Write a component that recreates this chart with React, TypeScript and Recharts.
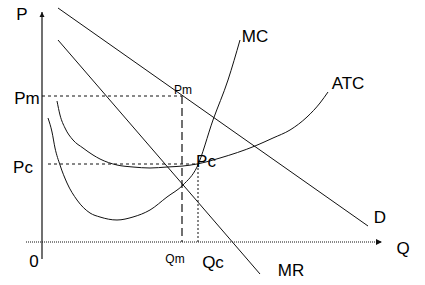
import React from "react";
import { LineChart, Line, XAxis, YAxis, ReferenceLine, ReferenceDot } from "recharts";

// Quantity (Q) / price (P) values
const mcCurve = [
  { q: 0.6, p: 12.4 }, { q: 1.0, p: 11.0 }, { q: 1.3, p: 9.4 }, { q: 1.8, p: 7.7 },
  { q: 2.5, p: 5.9 }, { q: 3.5, p: 4.2 }, { q: 4.8, p: 2.9 }, { q: 5.8, p: 2.5 },
  { q: 7.5, p: 2.2 }, { q: 9.1, p: 2.5 }, { q: 10.8, p: 3.2 }, { q: 12.5, p: 4.5 },
  { q: 14.1, p: 5.7 }, { q: 15.5, p: 7.5 }, { q: 17.1, p: 12.2 }, { q: 18.6, p: 16.2 },
  { q: 19.8, p: 20.2 },
];
const atcCurve = [
  { q: 1.5, p: 14.1 }, { q: 1.8, p: 12.7 }, { q: 2.3, p: 11.4 }, { q: 3.1, p: 10.2 },
  { q: 4.1, p: 9.4 }, { q: 5.1, p: 8.7 }, { q: 5.8, p: 8.3 }, { q: 7.5, p: 7.7 },
  { q: 9.1, p: 7.5 }, { q: 10.8, p: 7.4 }, { q: 12.5, p: 7.5 }, { q: 14.1, p: 7.6 },
  { q: 15.5, p: 7.8 }, { q: 17.8, p: 8.4 }, { q: 21.3, p: 9.6 }, { q: 23.1, p: 10.4 },
  { q: 24.8, p: 11.2 }, { q: 26.5, p: 12.5 }, { q: 27.8, p: 13.9 }, { q: 28.6, p: 15.0 },
];
const demandLine = [{ q: 1.6, p: 23.4 }, { q: 32.6, p: 1.6 }];
const mrLine = [{ q: 1.6, p: 20.2 }, { q: 21.8, p: -3.2 }];

const Pm = 14.6;
const Pc = 7.8;
const Qm = 14.0;
const Qc = 15.6;

const qAxisRange = [-1.6, 34.0];
const pAxisRange = [-1.7, 23.0];

const labels = [
  { text: "P", q: -2.0, p: 22.8, size: 17 },
  { text: "Pm", q: -1.5, p: 14.4, size: 17 },
  { text: "Pc", q: -1.9, p: 7.5, size: 17 },
  { text: "0", q: -0.8, p: -1.9, size: 17 },
  { text: "Qm", q: 13.3, p: -1.7, size: 12 },
  { text: "Qc", q: 17.1, p: -2.0, size: 17 },
  { text: "Q", q: 36.1, p: -0.6, size: 17 },
  { text: "MR", q: 24.9, p: -2.8, size: 17 },
  { text: "D", q: 33.8, p: 2.5, size: 17 },
  { text: "ATC", q: 30.6, p: 15.9, size: 17 },
  { text: "MC", q: 21.3, p: 20.6, size: 17 },
  { text: "Pm", q: 14.1, p: 15.2, size: 12 },
  { text: "Pc", q: 16.4, p: 8.1, size: 17 },
];

const FONT = "'Liberation Sans', Arial, sans-serif";
const INK = "#111";

const TextShape = (text: string, size: number) => (props: any) => (
  <text
    x={props.cx}
    y={props.cy}
    textAnchor="middle"
    dominantBaseline="central"
    fontFamily={FONT}
    fontSize={size}
    fill="#000"
  >
    {text}
  </text>
);

const ArrowRight = (props: any) => (
  <path d={`M${props.cx},${props.cy} l-6,-3 l0,6 z`} fill={INK} />
);
const ArrowUp = (props: any) => (
  <path d={`M${props.cx},${props.cy} l-2.5,5 l5,0 z`} fill={INK} />
);

export default function App() {
  return (
    <div style={{ position: "absolute", left: 0, top: 0, width: 425, height: 285, background: "#fff" }}>
      <LineChart width={425} height={285} margin={{ top: 0, right: 0, bottom: 0, left: 0 }}>
        <XAxis type="number" dataKey="q" domain={[-4.2, 38.3]} hide allowDataOverflow />
        <YAxis type="number" dataKey="p" domain={[-4.3, 24.2]} hide allowDataOverflow />

        {/* axes */}
        <ReferenceLine
          segment={[{ x: 0, y: pAxisRange[0] }, { x: 0, y: pAxisRange[1] }]}
          stroke={INK}
          strokeWidth={1.2}
        />
        <ReferenceLine
          segment={[{ x: qAxisRange[0], y: 0 }, { x: qAxisRange[1], y: 0 }]}
          stroke={INK}
          strokeWidth={1}
          strokeDasharray="1 1"
        />
        <ReferenceDot x={qAxisRange[1]} y={0} r={0} shape={ArrowRight} />
        <ReferenceDot x={0} y={pAxisRange[1]} r={0} shape={ArrowUp} />

        {/* guide lines */}
        <ReferenceLine segment={[{ x: 0, y: Pm }, { x: Qm, y: Pm }]} stroke={INK} strokeDasharray="3 3" />
        <ReferenceLine segment={[{ x: 0.6, y: Pc }, { x: Qc, y: Pc }]} stroke={INK} strokeDasharray="3 3" />
        <ReferenceLine segment={[{ x: Qm, y: Pm }, { x: Qm, y: 0 }]} stroke={INK} strokeWidth={1.2} strokeDasharray="8 4" />
        <ReferenceLine segment={[{ x: Qc, y: Pc }, { x: Qc, y: 0 }]} stroke={INK} strokeDasharray="2 2" />

        {/* curves */}
        <Line data={demandLine} dataKey="p" type="linear" stroke={INK} strokeWidth={1} dot={false} activeDot={false} isAnimationActive={false} />
        <Line data={mrLine} dataKey="p" type="linear" stroke={INK} strokeWidth={1} dot={false} activeDot={false} isAnimationActive={false} />
        <Line data={mcCurve} dataKey="p" type="monotone" stroke={INK} strokeWidth={1} dot={false} activeDot={false} isAnimationActive={false} />
        <Line data={atcCurve} dataKey="p" type="monotone" stroke={INK} strokeWidth={1} dot={false} activeDot={false} isAnimationActive={false} />

        {labels.map((l, i) => (
          <ReferenceDot key={i} x={l.q} y={l.p} r={0} shape={TextShape(l.text, l.size)} />
        ))}
      </LineChart>
    </div>
  );
}
